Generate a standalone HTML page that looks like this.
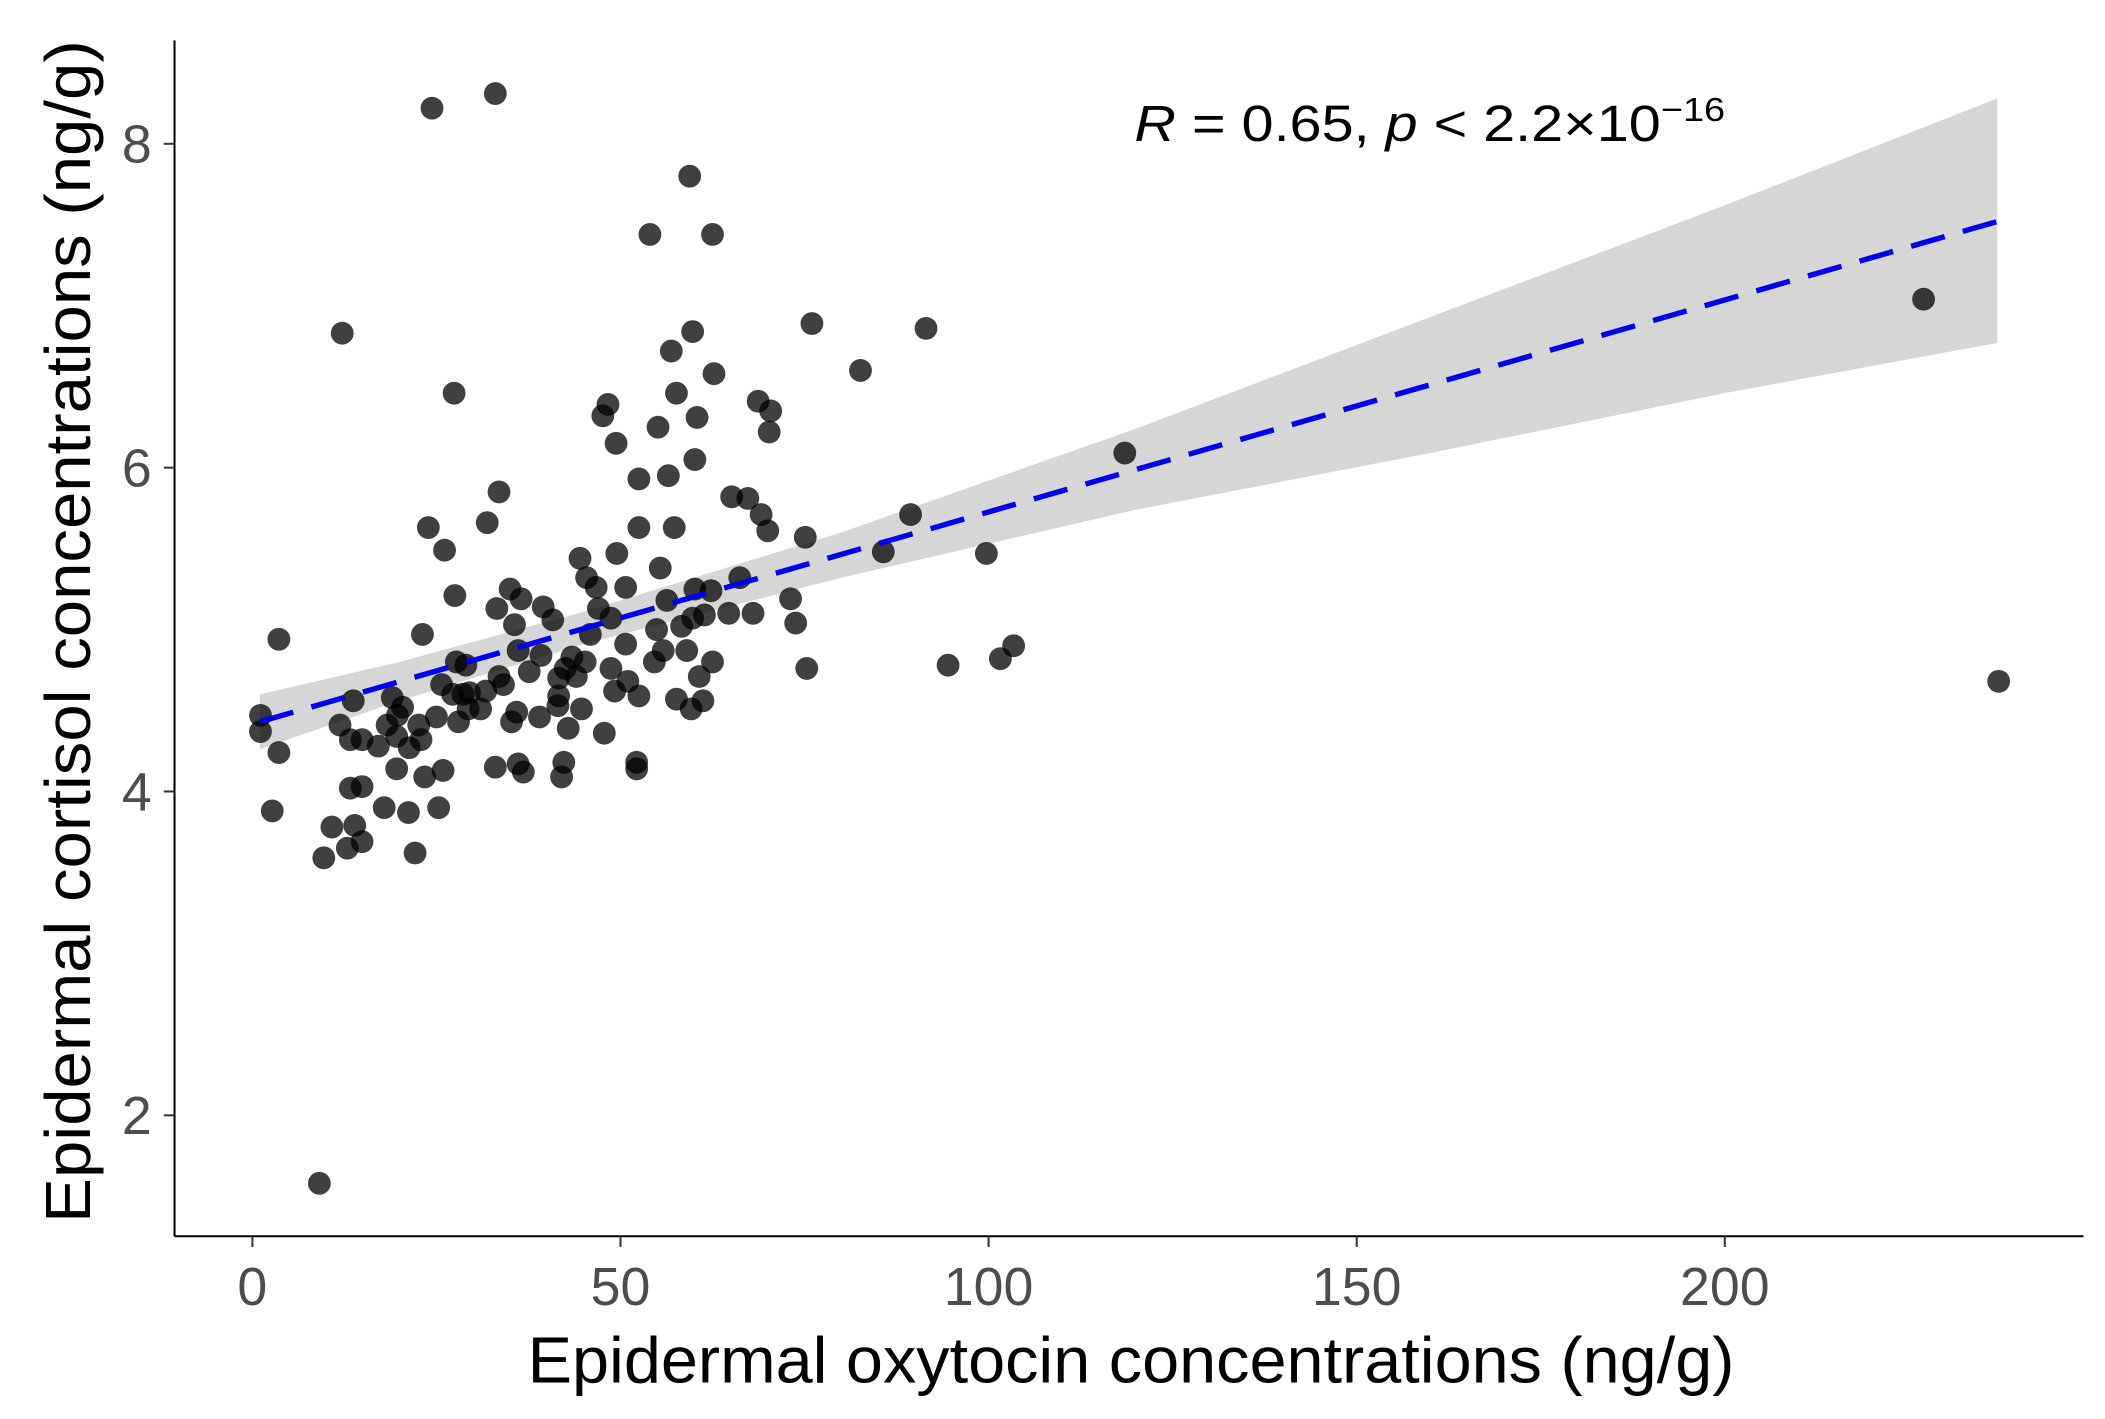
<!DOCTYPE html>
<html><head><meta charset="utf-8"><style>
html,body{margin:0;padding:0;background:#fff;}
svg{display:block;font-family:"Liberation Sans",Arial,sans-serif;}
</style></head><body>
<svg id="chart" width="2105" height="1419" viewBox="0 0 1568 1056" preserveAspectRatio="none" xmlns="http://www.w3.org/2000/svg">
<g id="band"></g>
<g id="pts"></g>
<g id="reg"></g>
<line x1="130" y1="30" x2="130" y2="920" stroke="#000" stroke-width="1.5"/>
<line x1="130" y1="920" x2="1552" y2="920" stroke="#000" stroke-width="1.5"/>
<g id="ticks"></g>
<text x="393" y="1029" font-size="48" textLength="899" lengthAdjust="spacingAndGlyphs" fill="#000">Epidermal oxytocin concentrations (ng/g)</text>
<text transform="translate(67,910) rotate(-90)" font-size="48" textLength="880" lengthAdjust="spacingAndGlyphs" fill="#000">Epidermal cortisol concentrations (ng/g)</text>
<text x="845" y="105" font-size="38" fill="#000" textLength="440" lengthAdjust="spacingAndGlyphs"><tspan font-style="italic">R</tspan> = 0.65, <tspan font-style="italic">p</tspan> &lt; 2.2×10<tspan font-size="25" dy="-15">−16</tspan></text>
</svg>
<script>
const xTicks=[0,50,100,150,200];
const yTicks=[2,4,6,8];
const xs=[24.4,33,59.4,54,62.5,12.2,227,76,91.5,59.8,56.9,82.6,62.7,27.4,57.6,68.7,70.4,48.3,47.6,60.4,55.1,70.2,49.4,118.5,60.1,56.5,33.5,52.5,65.1,67.3,31.9,69.1,89.4,23.9,52.5,57.3,70,75.1,26.1,85.7,99.7,44.5,49.5,55.4,66.2,45.4,35,46.7,50.7,27.5,36.5,60.1,62.3,73.1,56.3,39.5,33.2,47,64.7,68,59.8,61.4,35.6,73.8,54.9,23.1,3.6,45.9,50.7,103.4,101.6,55.8,59,43.4,39.2,36.1,45.2,75.3,94.5,62.5,27.7,42.5,48.7,33.5,60.7,237.2,25.7,41.6,29.5,49.2,34.1,27.2,57.6,52.5,41.6,61.2,19,59.6,44.7,13.7,31,1.1,28,35.2,39,42.9,47.8,11.9,22.6,1.1,18.3,19.6,14.9,13.3,17.1,22.9,3.6,21.3,52.2,33,36.1,36.8,42.3,42,19.6,23.4,25.9,52.2,14.9,13.3,2.7,17.9,21.2,25.3,13.9,10.8,14.9,12.9,9.7,22.1,9.1,20.4,29,31.7,37.6,41.5,44,51,54.6,58.3,29.3,28.6,40.8,48.7,35.9,19.7,25];
const ys=[8.22,8.31,7.80,7.44,7.44,6.83,7.04,6.89,6.86,6.84,6.72,6.60,6.58,6.46,6.46,6.41,6.35,6.39,6.32,6.31,6.25,6.22,6.15,6.09,6.05,5.95,5.85,5.93,5.82,5.81,5.66,5.71,5.71,5.63,5.63,5.63,5.61,5.57,5.49,5.48,5.47,5.44,5.47,5.38,5.32,5.32,5.25,5.26,5.26,5.21,5.19,5.25,5.24,5.19,5.18,5.14,5.13,5.13,5.10,5.10,5.07,5.09,5.03,5.04,5.00,4.97,4.94,4.97,4.91,4.90,4.82,4.87,4.87,4.83,4.84,4.87,4.80,4.76,4.78,4.80,4.80,4.76,4.76,4.71,4.71,4.68,4.66,4.70,4.61,4.62,4.66,4.60,4.57,4.59,4.59,4.56,4.58,4.51,4.51,4.56,4.51,4.47,4.43,4.43,4.46,4.39,4.36,4.41,4.41,4.37,4.41,4.34,4.32,4.32,4.28,4.32,4.24,4.27,4.18,4.15,4.17,4.12,4.18,4.09,4.14,4.09,4.13,4.14,4.03,4.02,3.88,3.90,3.87,3.90,3.79,3.78,3.69,3.65,3.59,3.62,1.58,4.52,4.78,4.62,4.74,4.53,4.71,4.68,4.80,5.02,4.51,4.60,5.06,5.07,4.49,4.47,4.46];
const fitX=[1,237];
const fitY=[4.43,7.52];
const bandX=[1,20,45,80,120,160,200,237];
const bandLo=[4.26,4.56,4.91,5.32,5.74,6.09,6.46,6.77];
const bandHi=[4.60,4.80,5.11,5.60,6.24,6.93,7.62,8.28];
const NS="http://www.w3.org/2000/svg";
const sx=v=>188+v*5.484;
const sy=v=>589-(v-4)*120.5;
function mk(tag,attrs,parent){const e=document.createElementNS(NS,tag);for(const k in attrs)e.setAttribute(k,attrs[k]);parent.appendChild(e);return e;}
const band=document.getElementById('band');
let d='M'+bandX.map((x,i)=>sx(x)+','+sy(bandHi[i])).join('L');
for(let i=bandX.length-1;i>=0;i--)d+='L'+sx(bandX[i])+','+sy(bandLo[i]);
const bp=mk('path',{d:d+'Z',fill:'#d6d6d6'},band);


const pts=document.getElementById('pts');
xs.forEach((x,i)=>{const c=mk('circle',{cx:sx(x),cy:sy(ys[i]),r:8.5,fill:'#000','fill-opacity':0.75},pts);

});
const reg=document.getElementById('reg');
const l=mk('line',{x1:sx(fitX[0]),y1:sy(fitY[0]),x2:sx(fitX[1]),y2:sy(fitY[1]),stroke:'#0000ee','stroke-width':4,'stroke-dasharray':'26,14'},reg);


const ticks=document.getElementById('ticks');
xTicks.forEach(v=>{const t=mk('line',{x1:sx(v),x2:sx(v),y1:920,y2:928,stroke:'#333','stroke-width':1.5},ticks);


const tx=mk('text',{x:sx(v),y:971,'font-size':40,'text-anchor':'middle',fill:'#4d4d4d'},ticks);tx.textContent=v;

});
yTicks.forEach(v=>{const t=mk('line',{x1:122,x2:130,y1:sy(v),y2:sy(v),stroke:'#333','stroke-width':1.5},ticks);


const tx=mk('text',{x:113,y:sy(v)+14,'font-size':40,'text-anchor':'end',fill:'#4d4d4d'},ticks);tx.textContent=v;

});
</script>
</body></html>
